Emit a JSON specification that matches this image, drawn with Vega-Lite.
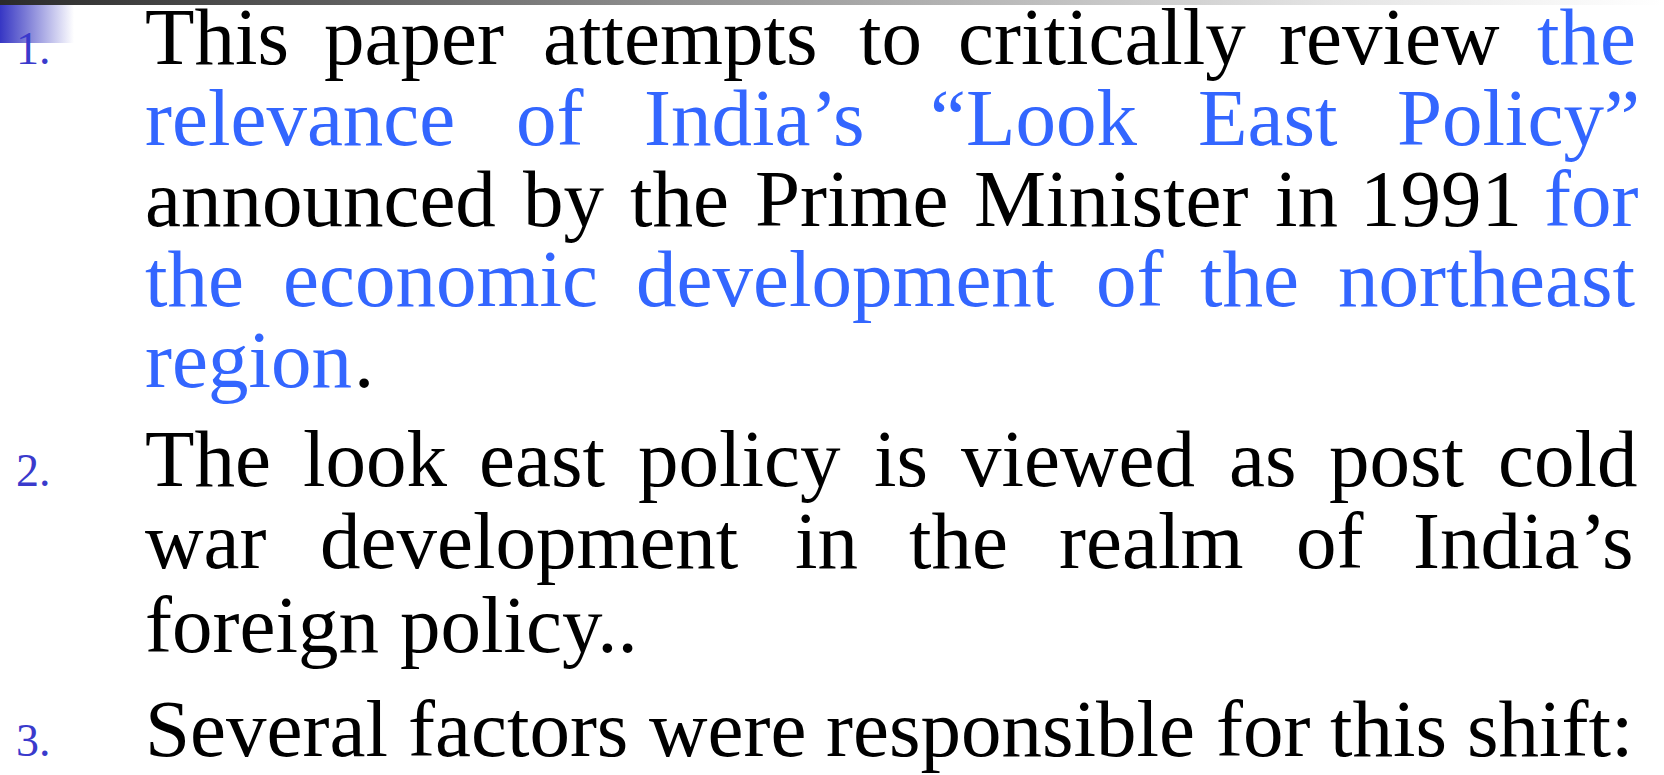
{
  "$schema": "https://vega.github.io/schema/vega-lite/v6.json",
  "width": 1664,
  "height": 775,
  "autosize": {"type": "none"},
  "padding": 0,
  "background": "#ffffff",
  "config": {"view": {"stroke": null}},
  "datasets": {
    "bands": [{"part": "top rule", "x0": 0, "x1": 1664, "y0": 0, "y1": 5}],
    "block": [{"part": "bullet block", "x0": 0, "x1": 74, "y0": 5, "y1": 43}],
    "numbers": [
      {"label": "1.", "x": 16, "y": 64},
      {"label": "2.", "x": 16, "y": 486},
      {"label": "3.", "x": 16, "y": 756}
    ],
    "words": [
      {"line": 1, "word": "This", "x": 145, "y": 64, "tone": "plain"},
      {"line": 1, "word": "paper", "x": 324, "y": 64, "tone": "plain"},
      {"line": 1, "word": "attempts", "x": 543, "y": 64, "tone": "plain"},
      {"line": 1, "word": "to", "x": 859, "y": 64, "tone": "plain"},
      {"line": 1, "word": "critically", "x": 958, "y": 64, "tone": "plain"},
      {"line": 1, "word": "review", "x": 1279, "y": 64, "tone": "plain"},
      {"line": 1, "word": "the", "x": 1537, "y": 64, "tone": "highlight"},
      {"line": 2, "word": "relevance", "x": 145, "y": 145, "tone": "highlight"},
      {"line": 2, "word": "of", "x": 516, "y": 145, "tone": "highlight"},
      {"line": 2, "word": "India’s", "x": 644, "y": 145, "tone": "highlight"},
      {"line": 2, "word": "“Look", "x": 930, "y": 145, "tone": "highlight"},
      {"line": 2, "word": "East", "x": 1198, "y": 145, "tone": "highlight"},
      {"line": 2, "word": "Policy”", "x": 1397, "y": 145, "tone": "highlight"},
      {"line": 3, "word": "announced", "x": 145, "y": 226, "tone": "plain"},
      {"line": 3, "word": "by", "x": 523, "y": 226, "tone": "plain"},
      {"line": 3, "word": "the", "x": 630, "y": 226, "tone": "plain"},
      {"line": 3, "word": "Prime", "x": 755, "y": 226, "tone": "plain"},
      {"line": 3, "word": "Minister", "x": 974, "y": 226, "tone": "plain"},
      {"line": 3, "word": "in", "x": 1275, "y": 226, "tone": "plain"},
      {"line": 3, "word": "1991", "x": 1360, "y": 226, "tone": "plain"},
      {"line": 3, "word": "for", "x": 1544, "y": 226, "tone": "highlight"},
      {"line": 4, "word": "the", "x": 145, "y": 306, "tone": "highlight"},
      {"line": 4, "word": "economic", "x": 283, "y": 306, "tone": "highlight"},
      {"line": 4, "word": "development", "x": 636, "y": 306, "tone": "highlight"},
      {"line": 4, "word": "of", "x": 1096, "y": 306, "tone": "highlight"},
      {"line": 4, "word": "the", "x": 1200, "y": 306, "tone": "highlight"},
      {"line": 4, "word": "northeast", "x": 1338, "y": 306, "tone": "highlight"},
      {"line": 5, "word": "region", "x": 145, "y": 387, "tone": "highlight"},
      {"line": 5, "word": ".", "x": 354, "y": 387, "tone": "plain"},
      {"line": 6, "word": "The", "x": 145, "y": 486, "tone": "plain"},
      {"line": 6, "word": "look", "x": 303, "y": 486, "tone": "plain"},
      {"line": 6, "word": "east", "x": 479, "y": 486, "tone": "plain"},
      {"line": 6, "word": "policy", "x": 638, "y": 486, "tone": "plain"},
      {"line": 6, "word": "is", "x": 874, "y": 486, "tone": "plain"},
      {"line": 6, "word": "viewed", "x": 961, "y": 486, "tone": "plain"},
      {"line": 6, "word": "as", "x": 1229, "y": 486, "tone": "plain"},
      {"line": 6, "word": "post", "x": 1329, "y": 486, "tone": "plain"},
      {"line": 6, "word": "cold", "x": 1498, "y": 486, "tone": "plain"},
      {"line": 7, "word": "war", "x": 145, "y": 568, "tone": "plain"},
      {"line": 7, "word": "development", "x": 320, "y": 568, "tone": "plain"},
      {"line": 7, "word": "in", "x": 795, "y": 568, "tone": "plain"},
      {"line": 7, "word": "the", "x": 909, "y": 568, "tone": "plain"},
      {"line": 7, "word": "realm", "x": 1059, "y": 568, "tone": "plain"},
      {"line": 7, "word": "of", "x": 1296, "y": 568, "tone": "plain"},
      {"line": 7, "word": "India’s", "x": 1413, "y": 568, "tone": "plain"},
      {"line": 8, "word": "foreign", "x": 145, "y": 652, "tone": "plain"},
      {"line": 8, "word": "policy..", "x": 400, "y": 652, "tone": "plain"},
      {"line": 9, "word": "Several", "x": 145, "y": 756, "tone": "plain"},
      {"line": 9, "word": "factors", "x": 408, "y": 756, "tone": "plain"},
      {"line": 9, "word": "were", "x": 649, "y": 756, "tone": "plain"},
      {"line": 9, "word": "responsible", "x": 826, "y": 756, "tone": "plain"},
      {"line": 9, "word": "for", "x": 1216, "y": 756, "tone": "plain"},
      {"line": 9, "word": "this", "x": 1330, "y": 756, "tone": "plain"},
      {"line": 9, "word": "shift:", "x": 1467, "y": 756, "tone": "plain"}
    ]
  },
  "layer": [
    {
      "data": {"name": "bands"},
      "mark": {
        "type": "rect",
        "fill": {
          "gradient": "linear", "x1": 0, "y1": 0, "x2": 1, "y2": 0,
          "stops": [
            {"offset": 0, "color": "#2b2b2b"},
            {"offset": 0.4, "color": "#8f8f8f"},
            {"offset": 0.8, "color": "#e4e4e4"},
            {"offset": 1, "color": "#ffffff"}
          ]
        }
      },
      "encoding": {
        "x": {"field": "x0", "type": "quantitative", "scale": {"domain": [0, 1664], "nice": false, "zero": false}, "axis": null},
        "x2": {"field": "x1"},
        "y": {"field": "y0", "type": "quantitative", "scale": {"domain": [0, 775], "reverse": true, "nice": false, "zero": false}, "axis": null},
        "y2": {"field": "y1"}
      }
    },
    {
      "data": {"name": "block"},
      "mark": {
        "type": "rect",
        "fill": {
          "gradient": "linear", "x1": 0, "y1": 0, "x2": 1, "y2": 0,
          "stops": [
            {"offset": 0, "color": "#3636c4"},
            {"offset": 0.35, "color": "#7b7bd6"},
            {"offset": 1, "color": "#ffffff"}
          ]
        }
      },
      "encoding": {
        "x": {"field": "x0", "type": "quantitative", "scale": {"domain": [0, 1664], "nice": false, "zero": false}, "axis": null},
        "x2": {"field": "x1"},
        "y": {"field": "y0", "type": "quantitative", "scale": {"domain": [0, 775], "reverse": true, "nice": false, "zero": false}, "axis": null},
        "y2": {"field": "y1"}
      }
    },
    {
      "data": {"name": "numbers"},
      "mark": {"type": "text", "align": "left", "baseline": "alphabetic", "font": "Liberation Serif", "fontSize": 46, "color": "#3a3acc"},
      "encoding": {
        "x": {"field": "x", "type": "quantitative", "scale": {"domain": [0, 1664], "nice": false, "zero": false}, "axis": null},
        "y": {"field": "y", "type": "quantitative", "scale": {"domain": [0, 775], "reverse": true, "nice": false, "zero": false}, "axis": null},
        "text": {"field": "label"}
      }
    },
    {
      "data": {"name": "words"},
      "mark": {"type": "text", "align": "left", "baseline": "alphabetic", "font": "Liberation Serif", "fontSize": 81},
      "encoding": {
        "x": {"field": "x", "type": "quantitative", "scale": {"domain": [0, 1664], "nice": false, "zero": false}, "axis": null},
        "y": {"field": "y", "type": "quantitative", "scale": {"domain": [0, 775], "reverse": true, "nice": false, "zero": false}, "axis": null},
        "text": {"field": "word"},
        "color": {"field": "tone", "type": "nominal", "scale": {"domain": ["plain", "highlight"], "range": ["#000000", "#3366ff"]}, "legend": null}
      }
    }
  ]
}
